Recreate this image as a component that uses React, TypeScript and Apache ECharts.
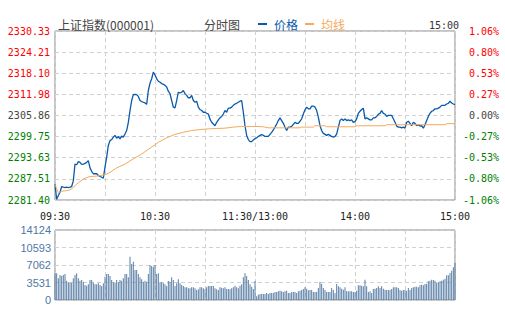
import React, { useEffect, useRef } from "react";
import * as echarts from "echarts";

const xLabels = ["09:30", "", "10:30", "", "11:30/13:00", "", "14:00", "", "15:00"];
const leftLabels = ["2281.40", "2287.51", "2293.63", "2299.75", "2305.86", "2311.98", "2318.10", "2324.21", "2330.33"];
const rightLabels = ["-1.06%", "-0.80%", "-0.53%", "-0.27%", "0.00%", "0.27%", "0.53%", "0.80%", "1.06%"];
const volLabels = ["0", "3531", "7062", "10593", "14124"];

// price per minute, index 0 = 09:30, 120 = 11:30/13:00, 240 = 15:00
const priceValues = [
  2286.0, 2281.6, 2282.7, 2283.6, 2285.3, 2285.1, 2285.0, 2285.1, 2285.0, 2285.1,
  2285.3, 2287.0, 2291.8, 2291.6, 2292.5, 2292.3, 2291.7, 2291.8, 2292.0, 2292.3,
  2292.8, 2290.7, 2289.7, 2289.0, 2289.0, 2289.0, 2288.5, 2288.2, 2288.0, 2287.7,
  2290.9, 2293.8, 2297.2, 2298.6, 2298.9, 2299.6, 2300.1, 2299.3, 2299.8, 2299.1,
  2299.9, 2299.6, 2300.5, 2301.5, 2303.9, 2307.3, 2310.2, 2311.9, 2312.0, 2311.9,
  2311.4, 2310.2, 2309.9, 2309.7, 2309.5, 2309.1, 2313.1, 2315.2, 2316.5, 2318.4,
  2317.6, 2316.5, 2315.8, 2315.5, 2315.1, 2314.9, 2314.6, 2314.1, 2312.9, 2312.2,
  2310.2, 2308.3, 2308.1, 2310.2, 2312.6, 2312.4, 2312.6, 2313.1, 2312.2, 2311.7,
  2311.0, 2311.0, 2311.7, 2310.2, 2309.7, 2310.0, 2308.3, 2307.6, 2307.3, 2306.8,
  2306.8, 2306.5, 2306.3, 2304.8, 2303.9, 2303.4, 2302.9, 2303.9, 2304.6, 2305.2,
  2305.6, 2306.3, 2307.3, 2306.8, 2308.0, 2308.0, 2308.3, 2308.8, 2309.2, 2309.4,
  2309.7, 2310.0, 2310.2, 2306.8, 2302.9, 2300.1, 2298.9, 2298.3, 2298.3, 2298.8,
  2299.2, 2299.4, 2299.8, 2300.1, 2300.3, 2300.1, 2299.8, 2299.8, 2299.8, 2300.4,
  2301.0, 2301.7, 2302.5, 2303.4, 2304.4, 2305.2, 2304.4, 2303.6, 2302.5, 2301.5,
  2302.5, 2302.5, 2302.7, 2303.3, 2303.9, 2303.6, 2303.6, 2304.2, 2304.9, 2306.3,
  2307.5, 2308.3, 2307.8, 2307.8, 2308.6, 2308.6, 2308.3, 2307.3, 2305.4, 2302.9,
  2301.5, 2300.7, 2300.4, 2300.1, 2300.4, 2300.1, 2299.8, 2299.6, 2299.8, 2300.5,
  2302.5, 2304.4, 2304.9, 2304.4, 2304.9, 2304.4, 2304.6, 2304.4, 2304.6, 2303.9,
  2304.1, 2304.9, 2306.5, 2307.1, 2307.6, 2308.0, 2304.9, 2305.2, 2304.9, 2304.6,
  2304.6, 2305.2, 2305.2, 2305.6, 2306.2, 2306.5, 2307.3, 2306.5, 2306.3, 2305.6,
  2305.9, 2305.9, 2305.9, 2304.9, 2303.9, 2302.8, 2302.5, 2302.5, 2302.3, 2302.5,
  2302.2, 2303.9, 2304.2, 2303.6, 2302.9, 2303.9, 2303.6, 2302.9, 2303.2, 2302.8,
  2302.9, 2302.2, 2303.2, 2304.4, 2305.6, 2306.5, 2307.1, 2307.3, 2307.8, 2307.8,
  2308.0, 2308.3, 2308.8, 2308.8, 2308.8, 2309.2, 2309.4, 2310.0, 2309.5, 2309.2,
  2309.0,
];

// average line readings (minute index, value)
const avgMinutes = [0, 2, 4, 8, 10, 13, 17, 21, 25, 30, 33, 37, 42, 47, 52, 57, 62, 67, 72, 77, 82, 87, 92, 97, 102, 107, 112, 120, 125, 128, 147, 148, 155, 156, 162, 163, 180, 181, 198, 199, 234, 235, 240];
const avgValues = [2285.9, 2283.5, 2283.9, 2284.2, 2284.6, 2286.0, 2287.5, 2288.2, 2288.3, 2288.7, 2289.4, 2290.7, 2291.8, 2293.3, 2294.7, 2296.4, 2298.1, 2299.4, 2300.4, 2301.0, 2301.5, 2301.8, 2302.0, 2302.1, 2302.2, 2302.5, 2302.7, 2302.7, 2302.6, 2302.3, 2302.3, 2302.5, 2302.5, 2302.9, 2302.9, 2302.6, 2302.6, 2302.9, 2302.9, 2303.2, 2303.2, 2303.5, 2303.5];

// volume per minute
const volumes = [
  5381,
  5381, 4372, 5045, 4843, 5045, 5246, 3901, 3565, 3498, 3498,
  4372, 5045, 5381, 4372, 3901, 4036, 3699, 3027, 2892, 3161,
  4036, 4036, 3498, 3161, 3161, 3363, 3027, 2825, 3363, 4708,
  5246, 5246, 4843, 4036, 3565, 3498, 4036, 3565, 4036, 3901,
  4372, 5246, 5246, 4574, 8744, 7264, 7735, 6053, 6053, 5246,
  4574, 4170, 3699, 3901, 3699, 5246, 7062, 6861, 6726, 7062,
  5246, 5381, 3565, 3565, 3363, 3161, 2825, 3834, 3699, 4574,
  4036, 2825, 3363, 4170, 3363, 3027, 2825, 2556, 2556, 2354,
  2354, 2556, 2556, 2354, 2018, 2152, 2556, 2556, 2354, 2152,
  2556, 2825, 2825, 2825, 2825, 2354, 2152, 2018, 2556, 2489,
  2354, 2556, 2220, 2220, 2152, 2354, 2556, 2892, 2556, 2354,
  2892, 3161, 4574, 5381, 4843, 4036, 3161, 2690, 2220, 3834,
  740, 1076, 1211, 1211, 1211, 1211, 1412, 1211, 1412, 1412,
  1412, 1614, 1614, 1749, 1883, 1749, 1614, 1749, 1883, 1412,
  1412, 1614, 1614, 1614, 1412, 1749, 1883, 2018, 2220, 2556,
  2287, 1950, 2018, 2018, 1614, 1614, 1614, 2421, 3632, 3228,
  2421, 2018, 1614, 1614, 1614, 2421, 2018, 1412, 3228, 2758,
  2556, 2287, 2085, 2556, 1749, 1749, 1749, 1749, 1614, 1614,
  1883, 2959, 2959, 2892, 2758, 4103, 2758, 1614, 1749, 1412,
  2220, 2287, 2421, 2758, 2421, 2758, 2287, 2085, 2018, 2018,
  2018, 2220, 2556, 2556, 2556, 2421, 2018, 1883, 2018, 2018,
  1883, 2421, 2018, 2421, 2556, 2690, 2690, 2556, 2959, 3094,
  2959, 3228, 3228, 3767, 3901, 4103, 4036, 3901, 3430, 3632,
  3767, 3901, 4103, 4305, 4977, 4977, 5448, 5919, 6591, 7466,
];

const MONO = "'DejaVu Sans Mono', monospace";
const CJK = "'Noto Sans CJK SC', sans-serif";
const PRICE_MIN = 2281.4;
const PRICE_MAX = 2330.33;
const PRICE_STEP = 6.11625;

function levelColor(i: number) {
  if (i > 4) return "#ff0000";
  if (i < 4) return "#008000";
  return "#444444";
}

export default function App() {
  const ref = useRef<HTMLDivElement>(null);
  useEffect(() => {
    if (!ref.current) return;
    const chart = echarts.init(ref.current, undefined, { renderer: "svg" });
    const idx = (v: number) => Math.round((v - PRICE_MIN) / PRICE_STEP);
    const dashed = { show: true, lineStyle: { color: "#d0d0d0", type: [4, 3] as any, width: 1 } };
    chart.setOption({
      animation: false,
      backgroundColor: "#ffffff",
      title: [
        { text: "上证指数(000001)", left: 53, top: 13, textStyle: { fontFamily: CJK, fontSize: 12, fontWeight: "normal", color: "#444" } },
        { text: "分时图", left: 199, top: 13, textStyle: { fontFamily: CJK, fontSize: 12, fontWeight: "normal", color: "#444" } },
        { text: "15:00", left: 424, top: 15, textStyle: { fontFamily: MONO, fontSize: 10, fontWeight: "normal", color: "#333" } },
      ],
      legend: {
        left: 253,
        top: 13,
        icon: "rect",
        itemWidth: 9,
        itemHeight: 2,
        itemGap: 7,
        data: [
          { name: "价格", textStyle: { color: "#0a5aaa" } },
          { name: "均线", textStyle: { color: "#f5a95b" } },
        ],
        textStyle: { fontFamily: CJK, fontSize: 12, padding: [0, 0, 0, 2] },
      },
      grid: [
        { left: 55, top: 31, width: 400, height: 169, show: true, borderColor: "#888", borderWidth: 1 },
        { left: 55, top: 230, width: 400, height: 70, show: true, borderColor: "#888", borderWidth: 1 },
      ],
      xAxis: [
        {
          gridIndex: 0, type: "value", min: 0, max: 240, interval: 30,
          axisLine: { show: false }, axisTick: { show: false },
          splitLine: dashed,
          axisLabel: {
            margin: 11, fontFamily: MONO, fontSize: 10, color: "#222", hideOverlap: false,
            showMinLabel: true, showMaxLabel: true,
            formatter: (v: number) => xLabels[Math.round(v / 30)] || "",
          },
        },
        {
          gridIndex: 1, type: "value", min: 0, max: 240, interval: 30,
          axisLine: { show: false }, axisTick: { show: false },
          splitLine: dashed, axisLabel: { show: false },
        },
      ],
      yAxis: [
        {
          gridIndex: 0, type: "value", min: PRICE_MIN, max: PRICE_MAX, interval: PRICE_STEP,
          axisLine: { show: false }, axisTick: { show: false },
          splitLine: dashed,
          axisLabel: {
            margin: 5, fontFamily: MONO, fontSize: 10,
            showMinLabel: true, showMaxLabel: true,
            formatter: (v: number) => leftLabels[idx(v)] ?? "",
            color: (v: any) => levelColor(idx(Number(v))),
          },
        },
        {
          gridIndex: 0, type: "value", position: "right", min: PRICE_MIN, max: PRICE_MAX, interval: PRICE_STEP,
          axisLine: { show: false }, axisTick: { show: false }, splitLine: { show: false },
          axisLabel: {
            margin: 44, align: "right", fontFamily: MONO, fontSize: 10,
            showMinLabel: true, showMaxLabel: true,
            formatter: (v: number) => rightLabels[idx(v)] ?? "",
            color: (v: any) => levelColor(idx(Number(v))),
          },
        },
        {
          gridIndex: 1, type: "value", min: 0, max: 14124, interval: 3531,
          axisLine: { show: false }, axisTick: { show: false },
          splitLine: dashed,
          axisLabel: {
            margin: 4, fontFamily: "'Liberation Sans', sans-serif", fontSize: 11, color: "#4f78a6",
            showMinLabel: true, showMaxLabel: true,
            formatter: (v: number) => volLabels[Math.round(v / 3531)] ?? "",
          },
        },
      ],
      series: [
        {
          name: "价格", type: "line", xAxisIndex: 0, yAxisIndex: 0,
          data: priceValues.map((v, i) => [i, v]),
          showSymbol: false, symbol: "none",
          lineStyle: { color: "#0a5aaa", width: 1.3 },
          itemStyle: { color: "#0a5aaa" },
        },
        {
          name: "均线", type: "line", xAxisIndex: 0, yAxisIndex: 0,
          data: avgMinutes.map((m, i) => [m, avgValues[i]]),
          showSymbol: false, symbol: "none",
          lineStyle: { color: "#f5a95b", width: 1 },
          itemStyle: { color: "#f5a95b" },
        },
        {
          name: "成交量", type: "bar", xAxisIndex: 1, yAxisIndex: 2,
          data: volumes.map((v, i) => [i, v]),
          barWidth: 1,
          itemStyle: { color: "#5a7fa6" },
        },
      ],
    });
    return () => chart.dispose();
  }, []);
  return <div ref={ref} style={{ position: "absolute", left: 0, top: 0, width: 505, height: 330 }} />;
}
